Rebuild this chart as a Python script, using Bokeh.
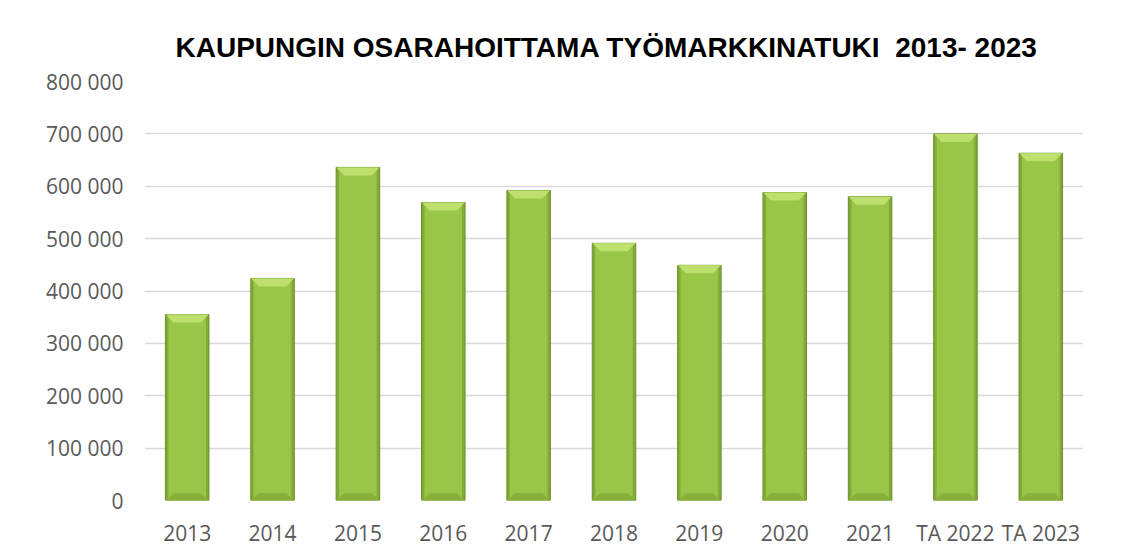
from bokeh.plotting import figure
from bokeh.models import FactorRange, Range1d, FixedTicker, Title
from bokeh.embed import file_html
from bokeh.resources import INLINE

# ---- data ----
categories = ["2013", "2014", "2015", "2016", "2017", "2018", "2019",
              "2020", "2021", "TA 2022", "TA 2023"]
values = [355000, 424000, 636000, 569000, 592000, 491000, 449000,
          588000, 580000, 700000, 663000]
y_ticks = [0, 100000, 200000, 300000, 400000, 500000, 600000, 700000, 800000]
y_tick_labels = ["0", "100 000", "200 000", "300 000", "400 000",
                 "500 000", "600 000", "700 000", "800 000"]
title_text = "KAUPUNGIN OSARAHOITTAMA TYÖMARKKINATUKI \u00a02013- 2023"

p = figure(width=1121, height=555, output_backend="svg", toolbar_location=None,
           x_range=FactorRange(*categories, range_padding=0, factor_padding=0),
           y_range=Range1d(0, 800000),
           min_border_left=144, min_border_right=38,
           min_border_top=81, min_border_bottom=55)

p.title = Title(text=title_text, align="left", offset=31,
                vertical_align="top",
                padding=dict(top=0, right=0, bottom=7, left=0),
                text_font="Liberation Sans", text_font_size="28px",
                text_font_style="bold", text_color="#000000", standoff=20)

bar_w = 0.51
edge = 0.035
bev_h = 15300
bev_d = 0.094

p.vbar(x=categories, top=values, width=bar_w, bottom=0,
       fill_color="#82AB36", line_color="#6A8F2C", line_width=1)
p.vbar(x=categories, top=values, width=bar_w - 2 * edge, bottom=0,
       fill_color="#99C649", line_color=None)

xs_top, ys_top, xs_bot, ys_bot = [], [], [], []
for i, v in enumerate(values):
    c = i + 0.5
    l, r = c - bar_w / 2, c + bar_w / 2
    xs_top.append([l + 0.004, r - 0.004, r - bev_d, l + bev_d])
    ys_top.append([v, v, v - bev_h, v - bev_h])
    xs_bot.append([l + 0.004, r - 0.004, r - bev_d, l + bev_d])
    ys_bot.append([0, 0, bev_h * 0.9, bev_h * 0.9])
p.patches(xs_top, ys_top, fill_color="#BEE06E", line_color=None)
p.patches(xs_bot, ys_bot, fill_color="#86B03A", line_color=None)

p.yaxis.ticker = FixedTicker(ticks=y_ticks)
p.yaxis.major_label_overrides = {t: s for t, s in zip(y_ticks, y_tick_labels)}
p.ygrid.ticker = FixedTicker(ticks=y_ticks)
p.ygrid.grid_line_color = "#D9D9D9"
p.ygrid.grid_line_width = 1.5
p.xgrid.grid_line_color = None

for ax in (p.xaxis, p.yaxis):
    ax.axis_line_color = None
    ax.major_tick_line_color = None
    ax.minor_tick_line_color = None
    ax.major_label_text_font = "Open Sans"
    ax.major_label_text_font_size = "21px"
    ax.major_label_text_color = "#595959"
p.yaxis.major_label_standoff = 15
p.xaxis.major_label_standoff = 12

p.outline_line_color = None
p.background_fill_color = "white"
p.border_fill_color = "white"

open("out.html", "w").write(file_html(p, INLINE))
